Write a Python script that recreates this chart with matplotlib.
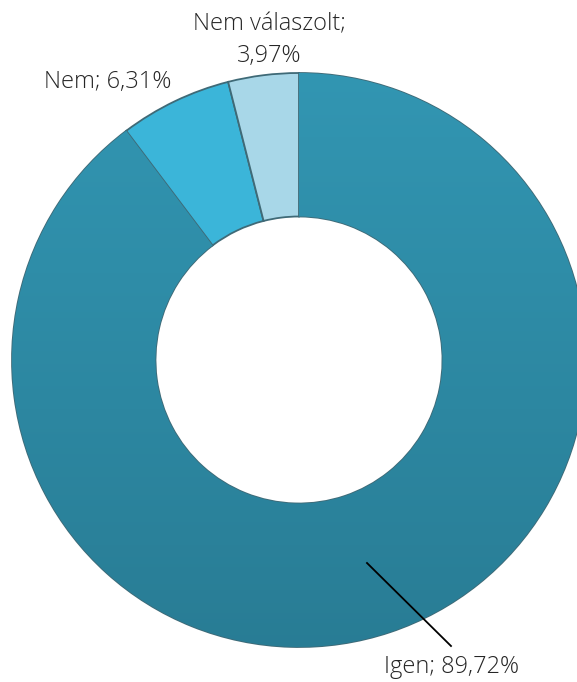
import matplotlib.pyplot as plt
import numpy as np
from matplotlib.colors import LinearSegmentedColormap

# --- Datos ---
categorias = ["Igen", "Nem", "Nem válaszolt"]
valores = [89.72, 6.31, 3.97]
etiquetas = ["Igen; 89,72%", "Nem; 6,31%", "Nem válaszolt;\n3,97%"]
colores = ["#2f91ad", "#3bb5d9", "#a8d7e8"]

plt.rcParams['font.family'] = ['Open Sans', 'DejaVu Sans']

fig = plt.figure(figsize=(5.77, 6.82), dpi=100)
ax = fig.add_axes([0, 0, 1, 1])

centro = (299, 360)
radio = 287

# eje y invertido (coordenadas de pixel): startangle=-90 y sentido antihorario
# equivalen visualmente a empezar arriba e ir en sentido horario
wedges, _ = ax.pie(valores, colors=colores, startangle=-90, counterclock=True,
                   center=centro, radius=radio, frame=True,
                   wedgeprops=dict(width=radio * 0.5, edgecolor="#3f6a77", linewidth=1.3))
ax.set_xlim(0, 577)
ax.set_ylim(682, 0)
ax.set_aspect('equal')
ax.axis('off')

# gradiente suave sobre el sector principal
grad = np.linspace(0, 1, 256).reshape(-1, 1)
cmap = LinearSegmentedColormap.from_list("g", ["#3399b6", "#287b93"])
img = ax.imshow(grad, extent=[0, 577, 682, 0], cmap=cmap, aspect='auto', zorder=1.5)
img.set_clip_path(wedges[0])
ax.set_xlim(0, 577)
ax.set_ylim(682, 0)

estilo = dict(ha="center", va="center", fontsize=17, fontweight="light", color="#262626")
ax.text(269, 40, etiquetas[2], linespacing=1.45, **estilo)
ax.text(108, 82, etiquetas[1], **estilo)
ax.text(452, 667, etiquetas[0], **estilo)
ax.plot([367, 451], [563, 646], color="black", lw=1.3, zorder=3)

fig.savefig("out.png", dpi=100)
